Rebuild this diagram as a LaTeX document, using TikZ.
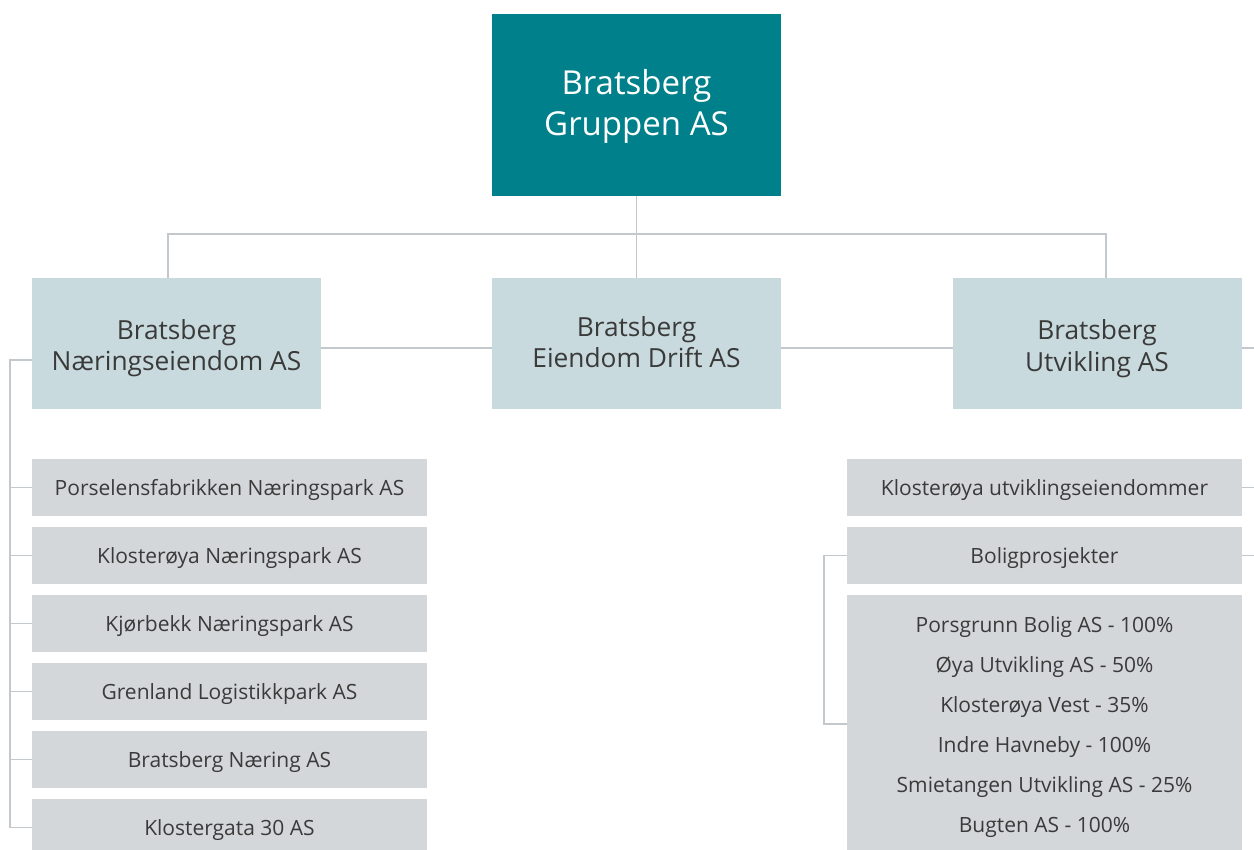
\documentclass[tikz,border=0pt]{standalone}
\usepackage{fontspec}
\setmainfont{Open Sans}
\definecolor{teal0}{HTML}{00808A}
\definecolor{pale}{HTML}{C8DADD}
\definecolor{leafgray}{HTML}{D4D7D9}
\definecolor{linegray}{HTML}{C3C8CC}
\definecolor{ink}{HTML}{3A3A3A}
\begin{document}
\begin{tikzpicture}[x=1pt,y=-1pt,
  every node/.style={inner sep=0pt, outer sep=0pt, align=center, text=ink},
  topbox/.style={fill=teal0, minimum width=289pt, minimum height=182pt},
  midbox/.style={fill=pale, minimum width=289pt, minimum height=131pt},
  toptext/.style={text=white, font=\fontsize{33}{41}\selectfont},
  midtext/.style={font=\fontsize{26.3}{31.5}\selectfont},
  leaf/.style={fill=leafgray, minimum width=395pt, minimum height=57pt,
    text height=15pt, text depth=0pt, font=\fontsize{21}{24}\selectfont},
  listtext/.style={font=\fontsize{21}{40}\selectfont},
  link/.style={draw=linegray, line width=1.3pt}]
\useasboundingbox (0,0) rectangle (1254,850);

% group head
\node[topbox] (top) at (636.5,105) {};
\node[toptext, yshift=-1.5pt] (topT) at (top) {Bratsberg\\Gruppen AS};

% second level
\node[midbox] (lft) at (176.5,343.5) {};
\node[midbox] (mid) at (636.5,343.5) {};
\node[midbox] (rgt) at (1097,344) {};
\node[midtext, yshift=-4.5pt] (lftT) at (lft) {Bratsberg\\Næringseiendom AS};
\node[midtext, yshift=1.5pt] (midT) at (mid) {Bratsberg\\Eiendom Drift AS};
\node[midtext, yshift=-4.5pt] (rgtT) at (rgt) {Bratsberg\\Utvikling AS};

% companies under Næringseiendom
\node[leaf] (l1) at (229.5,487.5) {Porselensfabrikken Næringspark AS};
\node[leaf] (l2) at (229.5,555.5) {Klosterøya Næringspark AS};
\node[leaf] (l3) at (229.5,623.5) {Kjørbekk Næringspark AS};
\node[leaf] (l4) at (229.5,691.5) {Grenland Logistikkpark AS};
\node[leaf] (l5) at (229.5,759.5) {Bratsberg Næring AS};
\node[leaf] (l6) at (229.5,827.5) {Klostergata 30 AS};

% companies under Utvikling
\node[leaf] (r1) at (1044.5,487.5) {Klosterøya utviklingseiendommer};
\node[leaf] (r2) at (1044.5,555.5) {Boligprosjekter};
\node[leaf, minimum height=258pt] (r3) at (1044.5,724) {};
\node[listtext, yshift=-3pt] (r3T) at (r3)
  {Porsgrunn Bolig AS - 100\%\\Øya Utvikling AS - 50\%\\Klosterøya Vest - 35\%\\
   Indre Havneby - 100\%\\Smietangen Utvikling AS - 25\%\\Bugten AS - 100\%};

% connectors
\coordinate (bar) at (636.5,234);
\coordinate (edgeR) at (1254,348);
\coordinate (lb) at (10,360);
\coordinate (rb) at (824,555.5);

\draw[link] (top.south) -- (mid.north);
\draw[link] ([xshift=-8.5pt]lft.north) |- (bar) -| ([xshift=9pt]rgt.north);
\draw[link] ([yshift=-4.5pt]lft.east) -- ([yshift=-4.5pt]mid.west);
\draw[link] ([yshift=-4.5pt]mid.east) -- ([yshift=-4pt]rgt.west);
\draw[link] ([yshift=-4pt]rgt.east) -- (edgeR);

\draw[link] ([yshift=-16.5pt]lft.west) -- (lb) |- (l6.west);
\foreach \n in {l1,l2,l3,l4,l5}
  \draw[link] (\n.west) -- (\n.west -| lb);

\draw[link] (r2.west) -- (rb) |- (r3.west);
\draw[link] (r1.east) -- (r1.east -| edgeR);
\draw[link] (r2.east) -- (r2.east -| edgeR);
\end{tikzpicture}
\end{document}
